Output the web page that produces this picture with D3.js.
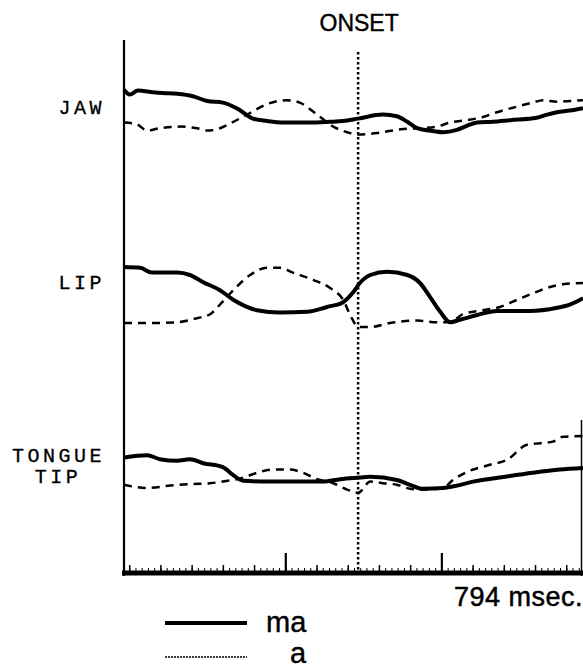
<!DOCTYPE html>
<html>
<head>
<meta charset="utf-8">
<script src="https://cdn.jsdelivr.net/npm/d3@7"></script>
<style>
  body { margin: 0; background: #fff; }
  svg { display: block; }
</style>
</head>
<body>
<div class="vis-traces"></div>
<script>
// time in msec, displacement in arbitrary units (0-10 per panel)
const totalMs = 794;
const onsetMs = 405;

const jawMa = [[0, 6.9], [10, 6.3], [24, 6.8], [50, 6.6], [67, 6.5], [92, 6.4], [119, 6.1], [144, 5.5],
  [171, 5.3], [195, 4.6], [223, 3.3], [247, 3.0], [275, 2.8], [322, 2.8], [356, 2.9], [379, 3.0],
  [405, 3.3], [448, 3.8], [472, 3.6], [490, 2.9], [507, 2.1], [529, 1.8], [552, 1.6], [576, 1.9],
  [593, 2.4], [611, 2.8], [638, 2.9], [668, 3.1], [714, 3.4], [732, 3.8], [749, 4.1], [771, 4.3], [794, 4.6]];
const jawA = [[0, 2.8], [22, 2.6], [40, 1.8], [62, 2.1], [97, 2.3], [126, 2.1], [145, 1.8], [166, 2.1],
  [192, 3.0], [218, 4.0], [247, 5.1], [282, 5.6], [304, 5.3], [334, 3.8], [362, 2.3], [386, 1.6],
  [405, 1.3], [438, 1.5], [483, 2.0], [512, 2.1], [541, 2.3], [564, 2.8], [593, 3.1], [621, 3.5],
  [645, 4.1], [680, 4.8], [707, 5.3], [725, 5.6], [749, 5.4], [771, 5.5], [794, 5.6]];

const lipMa = [[0, 8.5], [28, 8.4], [48, 7.8], [92, 7.8], [114, 7.5], [137, 6.6], [166, 5.6], [189, 4.4],
  [230, 3.1], [270, 2.8], [317, 2.9], [351, 3.5], [379, 4.1], [396, 5.3], [408, 6.5], [426, 7.5],
  [455, 7.9], [490, 7.5], [512, 6.5], [529, 4.8], [547, 2.9], [564, 1.6], [581, 1.9], [611, 2.5],
  [645, 3.0], [702, 3.0], [749, 3.4], [771, 3.8], [794, 4.6]];
const lipA = [[0, 1.5], [45, 1.5], [92, 1.6], [126, 2.1], [149, 2.6], [166, 3.8], [189, 5.6], [218, 7.5],
  [247, 8.4], [270, 8.4], [292, 7.8], [327, 6.9], [356, 5.9], [379, 4.4], [394, 2.1], [405, 1.0],
  [426, 1.0], [460, 1.5], [507, 1.8], [541, 1.6], [564, 1.6], [586, 2.6], [621, 3.1], [650, 3.5],
  [680, 4.4], [714, 5.4], [737, 6.0], [766, 6.4], [794, 6.5]];

const tipMa = [[0, 5.3], [40, 5.6], [62, 5.1], [92, 4.9], [114, 5.1], [137, 4.6], [171, 4.1], [189, 3.1],
  [206, 2.4], [253, 2.3], [299, 2.3], [344, 2.3], [374, 2.6], [408, 2.8], [426, 2.9], [472, 2.5],
  [495, 1.9], [517, 1.4], [552, 1.5], [576, 1.8], [604, 2.3], [650, 2.8], [707, 3.4], [754, 3.8], [794, 4.0]];
const tipA = [[0, 1.9], [40, 1.5], [80, 1.8], [119, 2.0], [149, 2.1], [171, 2.3], [206, 2.8], [230, 3.4],
  [258, 3.8], [287, 3.8], [310, 3.4], [334, 2.6], [362, 2.1], [386, 1.3], [405, 0.9], [426, 2.3],
  [448, 2.1], [472, 1.9], [495, 1.4], [517, 1.3], [552, 1.5], [569, 2.5], [593, 3.5], [633, 4.4],
  [662, 5.0], [697, 6.9], [720, 7.1], [742, 7.3], [759, 7.9], [794, 8.0]];

const panels = [
  { label: ["JAW"], ma: jawMa, a: jawA, top: 65 },
  { label: ["LIP"], ma: lipMa, a: lipA, top: 255 },
  { label: ["TONGUE", "TIP"], ma: tipMa, a: tipA, top: 420 }
];

const majorTicks = [279, 549];
const midTicks = d3.range(9, totalMs, 54);
const minorTicks = d3.range(9, totalMs, 10.8);

const width = 583, height = 671;
const margin = { left: 124, right: 0 };

const svg = d3.select(".vis-traces")
  .append("svg")
  .attr("width", width)
  .attr("height", height);

const x = d3.scaleLinear()
  .domain([0, totalMs])
  .range([margin.left, width]);

const baseY = 573;
const sans = "'Liberation Sans', Arial, sans-serif";

// left axis and partial right frame
svg.append("line")
  .attr("x1", x(0)).attr("x2", x(0))
  .attr("y1", 40).attr("y2", baseY + 3)
  .attr("stroke", "#000").attr("stroke-width", 2.2);
svg.append("line")
  .attr("x1", width - 1.5).attr("x2", width - 1.5)
  .attr("y1", 420).attr("y2", baseY + 3)
  .attr("stroke", "#000").attr("stroke-width", 1.5);

// onset marker
svg.append("line")
  .attr("x1", x(onsetMs)).attr("x2", x(onsetMs))
  .attr("y1", 52).attr("y2", baseY)
  .attr("stroke", "#000").attr("stroke-width", 2.5)
  .attr("stroke-dasharray", "2.5,2.5");
svg.append("text")
  .attr("x", x(onsetMs) + 1).attr("y", 31)
  .attr("text-anchor", "middle")
  .style("font-family", sans)
  .style("font-size", "23px")
  .attr("stroke", "#000").attr("stroke-width", 0.4)
  .text("ONSET");

// time base with tick marks
const addTicks = (vals, size, sw) => {
  const g = svg.append("g")
    .attr("transform", `translate(0, ${baseY - 2})`)
    .call(d3.axisTop(x).tickValues(vals).tickSize(size).tickFormat(""));
  g.select(".domain").remove();
  g.selectAll("line").attr("stroke-width", sw);
};
addTicks(minorTicks, 3, 1);
addTicks(midTicks, 6, 1.5);
addTicks(majorTicks, 18, 2.2);

svg.append("line")
  .attr("x1", x(0) - 2).attr("x2", width)
  .attr("y1", baseY).attr("y2", baseY)
  .attr("stroke", "#000").attr("stroke-width", 5);

svg.append("text")
  .attr("x", width).attr("y", 606)
  .attr("text-anchor", "end")
  .style("font-family", sans)
  .style("font-size", "27px")
  .style("letter-spacing", "0.5px")
  .attr("stroke", "#000").attr("stroke-width", 0.5)
  .text("794 msec.");

// traces
panels.forEach(p => {
  const y = d3.scaleLinear().domain([0, 10]).range([p.top + 80, p.top]);
  const line = d3.line()
    .x(d => x(d[0]))
    .y(d => y(d[1]))
    .curve(d3.curveMonotoneX);

  svg.append("path")
    .datum(p.a)
    .attr("fill", "none")
    .attr("stroke", "#000")
    .attr("stroke-width", 2.5)
    .attr("stroke-dasharray", "8,6")
    .attr("d", line);

  svg.append("path")
    .datum(p.ma)
    .attr("fill", "none")
    .attr("stroke", "#000")
    .attr("stroke-width", 4)
    .attr("stroke-linejoin", "round")
    .attr("d", line);
});

// row labels
const labelY = [114, 289, 462];
panels.forEach((p, i) => {
  p.label.forEach((t, j) => {
    svg.append("text")
      .attr("x", j === 0 ? 105 : 58)
      .attr("y", labelY[i] + j * 21)
      .attr("text-anchor", j === 0 ? "end" : "middle")
      .style("font-family", "'Liberation Mono', 'Courier New', monospace")
      .style("font-size", "20px")
      .style("letter-spacing", "3.5px")
      .attr("stroke", "#000").attr("stroke-width", 0.3)
      .text(t);
  });
});

// legend
const legend = [
  { name: "ma", dash: null, sw: 4, y: 623, tx: 266, ty: 632 },
  { name: "a", dash: "2,1", sw: 1.5, y: 657, tx: 290, ty: 663 }
];
legend.forEach(l => {
  svg.append("line")
    .attr("x1", 165).attr("x2", 247)
    .attr("y1", l.y).attr("y2", l.y)
    .attr("stroke", "#000")
    .attr("stroke-width", l.sw)
    .attr("stroke-dasharray", l.dash);
  svg.append("text")
    .attr("x", l.tx).attr("y", l.ty)
    .style("font-family", sans)
    .style("font-size", "29px")
    .attr("stroke", "#000").attr("stroke-width", 0.4)
    .text(l.name);
});
</script>
</body>
</html>
